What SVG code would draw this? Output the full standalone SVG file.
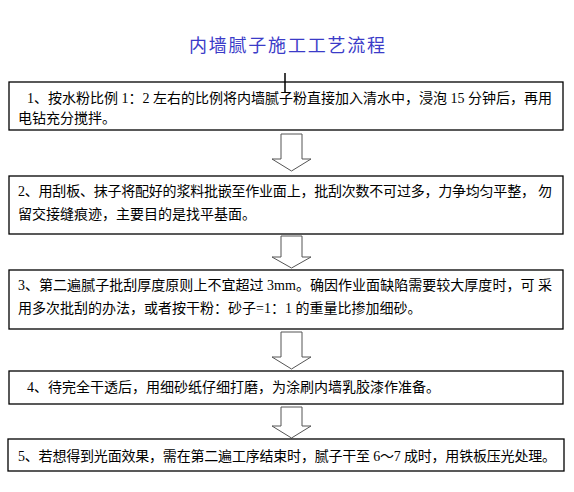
<svg xmlns="http://www.w3.org/2000/svg" width="574" height="492" viewBox="0 0 574 492">
  <style>
    .title { font-family: "Noto Sans CJK SC", sans-serif; font-size: 18px; fill: #3b3bc8; }
    .box { fill: #ffffff; stroke: #000000; stroke-width: 1.3; }
    .t { font-family: "Liberation Serif", "Noto Sans CJK SC", serif; font-size: 14px; fill: #000000; }
    .arrow { fill: #ffffff; stroke: #555555; stroke-width: 1; }
    .tick { stroke: #000000; stroke-width: 1.5; }
  </style>
  <rect width="574" height="492" fill="#ffffff"/>
  <text class="title" x="287" y="52" text-anchor="middle" textLength="196" lengthAdjust="spacing">内墙腻子施工工艺流程</text>

  <g id="connectors">
    <path class="arrow" d="M281,134 H302 V159 H311 L291.5,171 L272,159 H281 Z"/>
    <path class="arrow" d="M281,236 H302 V257 H311 L291.5,268 L272,257 H281 Z"/>
    <path class="arrow" d="M281,332 H302 V357 H311 L291.5,369 L272,357 H281 Z"/>
    <path class="arrow" d="M281,407 H302 V426 H311 L291.5,438 L272,426 H281 Z"/>
  </g>

  <g id="step1">
    <rect class="box" x="9" y="82" width="554" height="48"/>
    <text class="t" x="27" y="103" textLength="525" lengthAdjust="spacing">1、按水粉比例 1：2 左右的比例将内墙腻子粉直接加入清水中，浸泡 15 分钟后，再用</text>
    <text class="t" x="18" y="123">电钻充分搅拌。</text>
  </g>
  <line class="tick" x1="285" y1="73" x2="285" y2="93"/>

  <g id="step2">
    <rect class="box" x="9" y="176" width="554" height="58"/>
    <text class="t" x="18" y="196" textLength="534" lengthAdjust="spacing">2、用刮板、抹子将配好的浆料批嵌至作业面上，批刮次数不可过多，力争均匀平整， 勿</text>
    <text class="t" x="18" y="219">留交接缝痕迹，主要目的是找平基面。</text>
  </g>

  <g id="step3">
    <rect class="box" x="9" y="270" width="554" height="59"/>
    <text class="t" x="18" y="290" textLength="534" lengthAdjust="spacing">3、第二遍腻子批刮厚度原则上不宜超过 3mm。确因作业面缺陷需要较大厚度时，可 采</text>
    <text class="t" x="18" y="313">用多次批刮的办法，或者按干粉：砂子=1：1 的重量比掺加细砂。</text>
  </g>

  <g id="step4">
    <rect class="box" x="9" y="371" width="554" height="33"/>
    <text class="t" x="27" y="392">4、待完全干透后，用细砂纸仔细打磨，为涂刷内墙乳胶漆作准备。</text>
  </g>

  <g id="step5">
    <rect class="box" x="8" y="439" width="556" height="32"/>
    <text class="t" x="18" y="461" textLength="538" lengthAdjust="spacing">5、若想得到光面效果，需在第二遍工序结束时，腻子干至 6～7 成时，用铁板压光处理。</text>
  </g>
</svg>
